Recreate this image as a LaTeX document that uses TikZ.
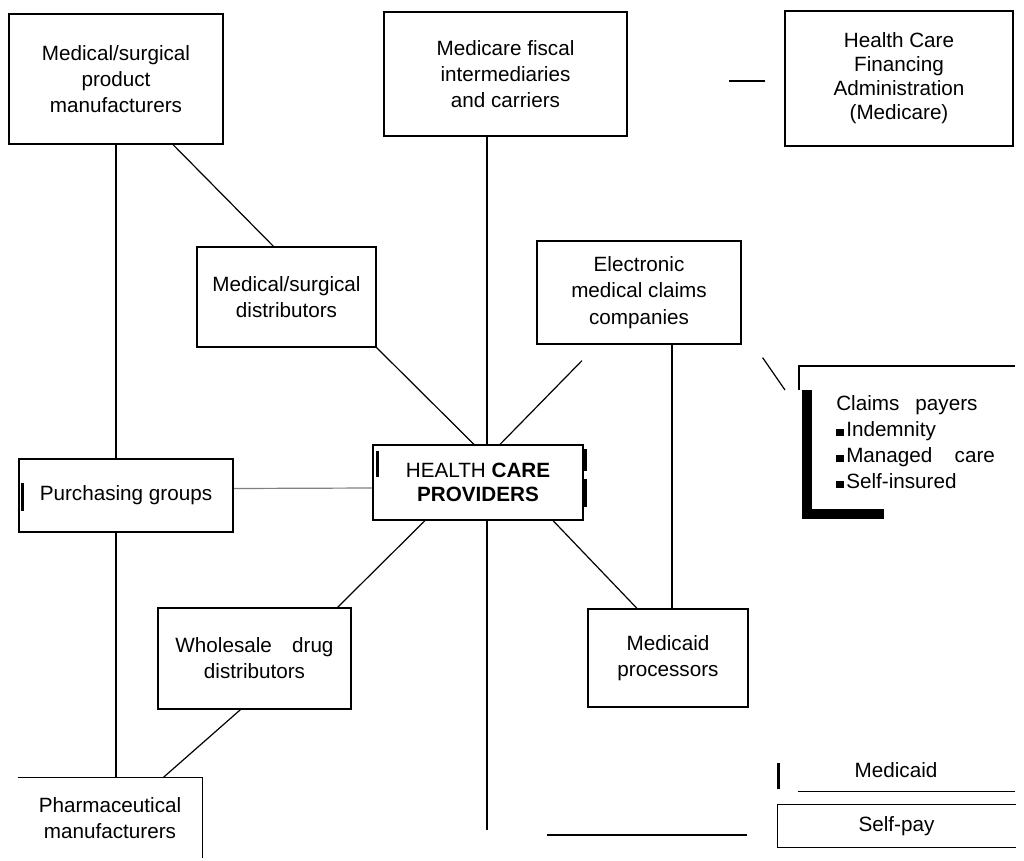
\documentclass[tikz,border=0pt]{standalone}
\usepackage{fontspec}
\setmainfont{Liberation Sans}
\usetikzlibrary{calc,backgrounds}

\newcommand{\sqb}{\rule{5.5pt}{5.5pt}\hspace{2pt}}

\begin{document}
\begin{tikzpicture}[x=0.75pt,y=0.75pt,yscale=-1,xscale=1,
  box/.style={draw, line width=0.9pt, fill=white, align=center, inner sep=0.75pt, font=\fontsize{15.5}{19.5}\selectfont},
  lbl/.style={align=center, inner sep=0.75pt, font=\fontsize{15.5}{19.5}\selectfont},
  link/.style={line width=0.9pt},
  thickbar/.style={line width=2pt}]
\useasboundingbox (0,0) rectangle (1024,860);

% Text Node
\node [box, minimum width=160.5pt, minimum height=97.5pt] (mfr) at (116,79) {Medical/surgical\\product\\manufacturers};
% Text Node
\node [box, minimum width=182.25pt, minimum height=93pt] (fiscal) at (505.5,74) {Medicare fiscal\\intermediaries\\and carriers};
% Text Node
\node [box, minimum width=171pt, minimum height=101.25pt, font=\fontsize{15.5}{18}\selectfont] (hcfa) at (899,78.5) {Health Care\\Financing\\Administration\\(Medicare)};
% Text Node
\node [box, minimum width=134.25pt, minimum height=75pt] (dist) at (286.5,297) {Medical/surgical\\distributors};
% Text Node
\node [box, minimum width=153pt, minimum height=77.25pt, font=\fontsize{15.5}{20}\selectfont] (emc) at (639,292.5) {Electronic\\medical claims\\companies};
% Text Node
\node [box, minimum width=157.5pt, minimum height=56.25pt, font=\fontsize{15.5}{17.5}\selectfont] (hcp) at (478,482.5) {HEALTH \textbf{CARE}\\\textbf{PROVIDERS}};
% Text Node
\node [box, minimum width=160.5pt, minimum height=54.75pt] (purch) at (126,495.5) {Purchasing groups};
% Text Node
\node [box, minimum width=144.75pt, minimum height=75.75pt] (wholesale) at (254.5,658.5) {Wholesale\hspace{0.7em} drug\\distributors};
% Text Node
\node [box, minimum width=120pt, minimum height=73.5pt] (mcp) at (668,658) {Medicaid\\processors};
% Text Node
\node [lbl, minimum width=138pt, minimum height=60pt] (pharm) at (110,818) {Pharmaceutical\\manufacturers};
% Text Node
\node [lbl, align=left, anchor=west] (payers) at (835,442) {Claims\hspace{0.5em} payers\\\sqb Indemnity\\\sqb Managed\hspace{0.8em} care\\\sqb Self-insured};
% Text Node
\node [lbl, minimum width=178.5pt, minimum height=30.75pt] (medicaid) at (896,770.5) {Medicaid};
% Text Node
\node [lbl, minimum width=178.5pt, minimum height=31.5pt] (selfpay) at (896.5,826) {Self-pay};

\coordinate (fiscal-end) at (487,830);
\coordinate (emc-drop) at ($(emc.south)+(33,0)$);

\begin{scope}[on background layer]
% Connection
\draw [link] (mfr.south) -- (mfr.south |- purch.north);
\draw [link] (mfr.south |- purch.south) -- (mfr.south |- pharm.north);
% Connection
\draw [link] ($(mfr.south)+(57,0)$) -- ($(dist.north)+(-13,0)$);
\draw [link] (dist.south east) -- ($(hcp.north)+(-4,0)$);
% Connection
\draw [link] (fiscal-end |- fiscal.south) -- (fiscal-end);
% Connection
\draw [link] ($(emc.south)+(-57,16)$) -- ($(hcp.north)+(22,0)$);
\draw [link] (emc-drop) -- (emc-drop |- mcp.north);
\draw [link] ($(emc.south east)+(21,13)$) -- ($(payers.west)+(-50,-52)$);
% Connection
\draw [link, gray] ($(purch.east)+(0,-7)$) -- ($(hcp.west)+(0,5.5)$);
\draw [link] ($(hcp.south)+(-53,0)$) -- ($(wholesale.north)+(83,0)$);
\draw [link] ($(hcp.south)+(75,0)$) -- ($(mcp.north)+(-31,0)$);
\draw [link] ($(wholesale.south)+(-14,0)$) -- ($(pharm.north)+(53,0)$);
% Connection
\draw [link] ($(hcfa.west)+(-19,2.5)$) -- ++(-36,0);
\draw [link] ($(selfpay.west)+(-30,9)$) -- ++(-200,0);
\end{scope}

%Shape: open boxes
\draw [link] (pharm.north west) -- (pharm.north east) -- (pharm.south east);
\draw [link] ($(payers.west)+(180,-76)$) -- ($(payers.west)+(-36,-76)$) -- ++(0,24);
\draw [line width=7pt] ($(payers.west)+(-28,-52)$) -- ($(payers.west)+(-28,72)$) -- ++(77,0);
\draw [link] ($(medicaid.south west)+(21,0)$) -- (medicaid.south east);
\draw [thickbar] ($(medicaid.south west)+(2,-2)$) -- ($(medicaid.south west)+(2,-28)$);
\draw [link] (selfpay.north east) -- (selfpay.north west) -- (selfpay.south west) -- (selfpay.south east);

%Bars
\draw [thickbar] ($(hcp.north west)+(5,7)$) -- ++(0,26);
\draw [thickbar] ($(hcp.north east)+(2,5)$) -- ++(0,22);
\draw [thickbar] ($(hcp.north east)+(2,35)$) -- ++(0,28);
\draw [thickbar] ($(purch.west)+(4,-13)$) -- ++(0,28);

\end{tikzpicture}
\end{document}
